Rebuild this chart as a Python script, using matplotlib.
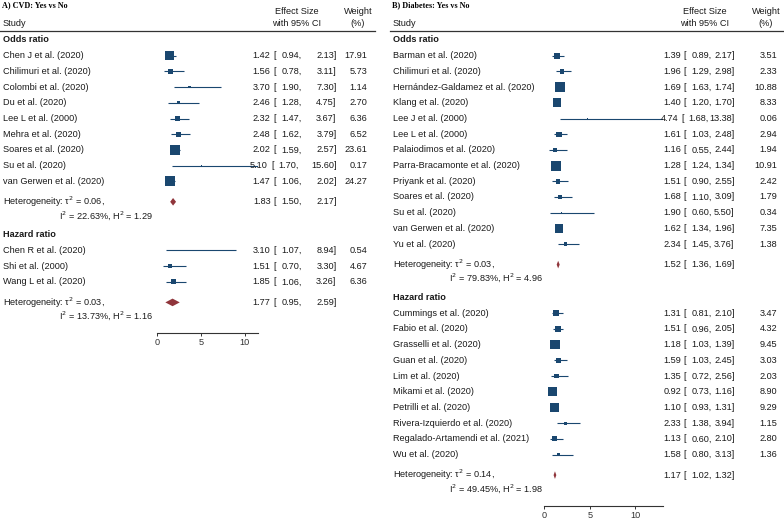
import matplotlib
matplotlib.use("Agg")
import matplotlib.pyplot as plt
from matplotlib.transforms import blended_transform_factory
from matplotlib.lines import Line2D
import numpy as np

W, H = 784, 519

# ---- Panel A : CVD ----
a_or_study = ["Chen J et al. (2020)", "Chilimuri et al. (2020)", "Colombi et al. (2020)",
              "Du et al. (2020)", "Lee L et al. (2000)", "Mehra et al. (2020)",
              "Soares et al. (2020)", "Su et al. (2020)", "van Gerwen et al. (2020)"]
a_or_est = [1.42, 1.56, 3.70, 2.46, 2.32, 2.48, 2.02, 5.10, 1.47]
a_or_lo = [0.94, 0.78, 1.90, 1.28, 1.47, 1.62, 1.59, 1.70, 1.06]
a_or_hi = [2.13, 3.11, 7.30, 4.75, 3.67, 3.79, 2.57, 15.60, 2.02]
a_or_w = [17.91, 5.73, 1.14, 2.70, 6.36, 6.52, 23.61, 0.17, 24.27]
a_or_pool = [1.83, 1.50, 2.17]
a_or_het = ["0.06", "22.63", "1.29"]

a_hr_study = ["Chen R et al. (2020)", "Shi et al. (2000)", "Wang L et al. (2020)"]
a_hr_est = [3.10, 1.51, 1.85]
a_hr_lo = [1.07, 0.70, 1.06]
a_hr_hi = [8.94, 3.30, 3.26]
a_hr_w = [0.54, 4.67, 6.36]
a_hr_pool = [1.77, 0.95, 2.59]
a_hr_het = ["0.03", "13.73", "1.16"]

# ---- Panel B : Diabetes ----
b_or_study = ["Barman et al. (2020)", "Chilimuri et al. (2020)",
              "Hernández-Galdamez et al. (2020)", "Klang et al. (2020)",
              "Lee J et al. (2000)", "Lee L et al. (2000)", "Palaiodimos et al. (2020)",
              "Parra-Bracamonte et al. (2020)", "Priyank et al. (2020)",
              "Soares et al. (2020)", "Su et al. (2020)", "van Gerwen et al. (2020)",
              "Yu et al. (2020)"]
b_or_est = [1.39, 1.96, 1.69, 1.40, 4.74, 1.61, 1.16, 1.28, 1.51, 1.68, 1.90, 1.62, 2.34]
b_or_lo = [0.89, 1.29, 1.63, 1.20, 1.68, 1.03, 0.55, 1.24, 0.90, 1.10, 0.60, 1.34, 1.45]
b_or_hi = [2.17, 2.98, 1.74, 1.70, 13.38, 2.48, 2.44, 1.34, 2.55, 3.09, 5.50, 1.96, 3.76]
b_or_w = [3.51, 2.33, 10.88, 8.33, 0.06, 2.94, 1.94, 10.91, 2.42, 1.79, 0.34, 7.35, 1.38]
b_or_pool = [1.52, 1.36, 1.69]
b_or_het = ["0.03", "79.83", "4.96"]

b_hr_study = ["Cummings et al. (2020)", "Fabio et al. (2020)", "Grasselli et al. (2020)",
              "Guan et al. (2020)", "Lim et al. (2020)", "Mikami et al. (2020)",
              "Petrilli et al. (2020)", "Rivera-Izquierdo et al. (2020)",
              "Regalado-Artamendi et al. (2021)", "Wu et al. (2020)"]
b_hr_est = [1.31, 1.51, 1.18, 1.59, 1.35, 0.92, 1.10, 2.33, 1.13, 1.58]
b_hr_lo = [0.81, 0.96, 1.03, 1.03, 0.72, 0.73, 0.93, 1.38, 0.60, 0.80]
b_hr_hi = [2.10, 2.05, 1.39, 2.45, 2.56, 1.16, 1.31, 3.94, 2.10, 3.13]
b_hr_w = [3.47, 4.32, 9.45, 3.03, 2.03, 8.90, 9.29, 1.15, 2.80, 1.36]
b_hr_pool = [1.17, 1.02, 1.32]
b_hr_het = ["0.14", "49.45", "1.98"]

xticks = [0, 5, 10]

NAVY = "#1a476f"
MAROON = "#90353b"
FS = 6.6

plt.rcParams['font.family'] = "Liberation Sans"
fig = plt.figure(figsize=(W / 100, H / 100), dpi=100)


def fx(px):
    return px / W


def panel(x0, title, ax_left, ax_right, xmax, axis_y, cols, msize, line_end,
          sections):
    # axes: x in effect units, y in pixel rows (top = 0)
    ax = fig.add_axes([fx(ax_left), 1 - axis_y / H, fx(ax_right - ax_left), axis_y / H])
    ax.set_xlim(0, xmax)
    ax.set_ylim(axis_y, 0)
    for s in ["top", "right", "left"]:
        ax.spines[s].set_visible(False)
    ax.spines["bottom"].set_linewidth(0.8)
    ax.spines["bottom"].set_color("#333333")
    ax.set_yticks([])
    ax.set_xticks(xticks)
    ax.tick_params(axis="x", length=2.5, width=0.7, pad=0.8, labelsize=FS,
                   colors="#333333")
    ax.patch.set_alpha(0)

    tr = blended_transform_factory(fig.transFigure, ax.transData)

    def txt(x, y, s, **kw):
        ax.text(fx(x), y, s, transform=tr, va="center", fontsize=FS, clip_on=False,
                color="#1a1a1a", **kw)

    def ci_text(y, e, l, h, w=None):
        # wide upper bounds push the rest of the string to the left
        sh = 2.5 if h >= 10 else 0
        txt(cols["est_r"] - sh, y, f"{e:.2f}", ha="right")
        txt(cols["br"] - sh, y, "[", ha="left")
        txt(cols["lo_r"] - sh, y, f"{l:.2f},", ha="right")
        txt(cols["hi_r"], y, f"{h:.2f}]", ha="right")
        if w is not None:
            txt(cols["w_r"], y, f"{w:.2f}", ha="right")

    # titles / header
    fig.text(fx(x0 + 2), 1 - 5 / H, title, family="Liberation Serif", weight="bold",
             fontsize=5.9, va="center", ha="left")
    txt(x0 + 3, 24, "Study")
    txt(cols["eff_c"], 11, "Effect Size", ha="center")
    txt(cols["eff_c"], 24, "with 95% CI", ha="center")
    txt(cols["w_c"], 11, "Weight", ha="center")
    txt(cols["w_c"], 24, "(%)", ha="center")
    fig.add_artist(Line2D([fx(x0), fx(line_end)], [1 - 31 / H] * 2, color="#333333",
                          lw=0.9))

    y = 40
    for k, (name, study, est, lo, hi, w, pool, het) in enumerate(sections):
        if k > 0:
            y += 19.5
        txt(x0 + 3, y, name, weight="bold")
        ys = []
        for i in range(len(study)):
            y += 15.7
            ys.append(y)
        ys = np.array(ys)
        ax.hlines(ys, lo, np.minimum(hi, xmax), color=NAVY, lw=0.8)
        ax.scatter(est, ys, marker="s", s=(msize * np.sqrt(w)) ** 2 * 0.5184,
                   color=NAVY, linewidths=0, zorder=3)
        for yy, s_, e, l, h, ww in zip(ys, study, est, lo, hi, w):
            txt(x0 + 3, yy, s_)
            ci_text(yy, e, l, h, ww)
        y = ys[-1] + 20.5
        pe, pl, ph = pool
        ax.fill([pl, pe, ph, pe], [y, y - 3.8, y, y + 3.8], color=MAROON, lw=0)
        txt(x0 + 3, y, f"Heterogeneity: τ$^2$ = {het[0]},")
        ci_text(y, pe, pl, ph)
        y += 13.5
        txt(x0 + 153, y, f"I$^2$ = {het[1]}%, H$^2$ = {het[2]}", ha="right")
    return ax


panel(0, "A) CVD: Yes vs No", 157, 258, 11.5, 333,
      dict(eff_c=296.5, w_c=358, est_r=270.5, br=273.5, lo_r=301.5, hi_r=336.5, w_r=367.5),
      2.05, 375,
      [("Odds ratio", a_or_study, a_or_est, a_or_lo, a_or_hi, a_or_w, a_or_pool, a_or_het),
       ("Hazard ratio", a_hr_study, a_hr_est, a_hr_lo, a_hr_hi, a_hr_w, a_hr_pool, a_hr_het)])

panel(390, "B) Diabetes: Yes vs No", 544.3, 662.7, 13.0, 506,
      dict(eff_c=704.7, w_c=766, est_r=681, br=683.5, lo_r=711.5, hi_r=734.5, w_r=777),
      3.05, 784,
      [("Odds ratio", b_or_study, b_or_est, b_or_lo, b_or_hi, b_or_w, b_or_pool, b_or_het),
       ("Hazard ratio", b_hr_study, b_hr_est, b_hr_lo, b_hr_hi, b_hr_w, b_hr_pool, b_hr_het)])

fig.savefig("out.png", dpi=100, facecolor="white")
